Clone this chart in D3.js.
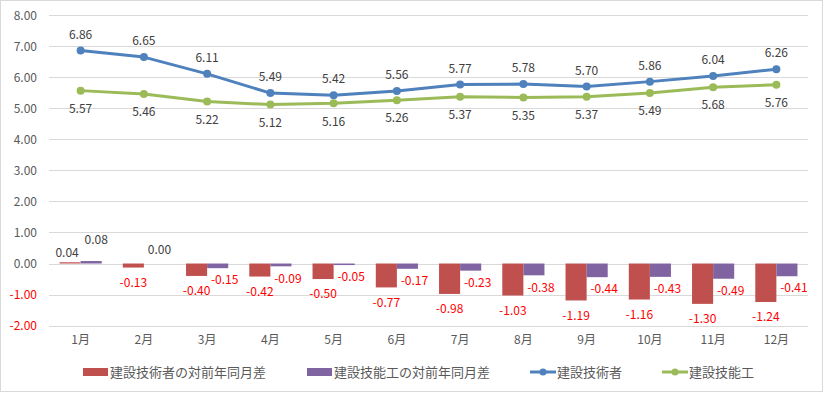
<!DOCTYPE html>
<html>
<head>
<meta charset="utf-8">
<script src="https://cdn.jsdelivr.net/npm/d3@7"></script>
<style>
  body { margin: 0; background: #fff; }
  text { font-family: "Noto Sans CJK JP", "Noto Sans", sans-serif; }
</style>
</head>
<body>
<div id="chart"></div>
<script>
// months and series
var months = ["1月", "2月", "3月", "4月", "5月", "6月", "7月", "8月", "9月", "10月", "11月", "12月"];
var engineer = [6.86, 6.65, 6.11, 5.49, 5.42, 5.56, 5.77, 5.78, 5.70, 5.86, 6.04, 6.26];
var worker = [5.57, 5.46, 5.22, 5.12, 5.16, 5.26, 5.37, 5.35, 5.37, 5.49, 5.68, 5.76];
var engineerDiff = [0.04, -0.13, -0.40, -0.42, -0.50, -0.77, -0.98, -1.03, -1.19, -1.16, -1.30, -1.24];
var workerDiff = [0.08, 0.00, -0.15, -0.09, -0.05, -0.17, -0.23, -0.38, -0.44, -0.43, -0.49, -0.41];
var yTicks = [8, 7, 6, 5, 4, 3, 2, 1, 0, -1, -2];
var legendNames = ["建設技術者の対前年同月差", "建設技能工の対前年同月差", "建設技術者", "建設技能工"];

(function() {
var width = 824,
    height = 393;

var svg = d3.select("#chart").append("svg")
    .attr("width", width)
    .attr("height", height);

// outer frame
svg.append("rect")
    .attr("x", 0.5).attr("y", 0.5)
    .attr("width", width - 2).attr("height", height - 2)
    .style("fill", "#fff")
    .style("stroke", "#d9d9d9");

var x = d3.scaleBand()
    .domain(months)
    .range([49, 808]);

var y = d3.scaleLinear()
    .domain([-2, 8])
    .range([325.6, 15.2]);

// plain hyphen for negatives, like the original
var fmt = function(d) { return d3.format(".2f")(d).replace("\u2212", "-"); };

// gridlines
svg.append("g")
    .selectAll("line")
    .data(yTicks)
    .enter()
    .append("line")
    .attr("x1", x.range()[0])
    .attr("x2", x.range()[1])
    .attr("y1", function(d) { return Math.round(y(d)) + 0.5; })
    .attr("y2", function(d) { return Math.round(y(d)) + 0.5; })
    .style("stroke", "#d9d9d9")
    .style("stroke-width", 1);

// y axis labels
var yAxis = d3.axisLeft(y)
    .tickValues(yTicks)
    .tickFormat(fmt)
    .tickSize(0)
    .tickPadding(0);
var yg = svg.append("g")
    .attr("transform", "translate(37,0)")
    .call(yAxis);
yg.select(".domain").remove();
yg.selectAll("text")
    .style("font-size", "12px")
    .style("fill", function(d) { return d < 0 ? "#ff0000" : "#595959"; });

// x axis labels
var xAxis = d3.axisBottom(x).tickSize(0).tickPadding(0);
var xg = svg.append("g")
    .attr("transform", "translate(0,335)")
    .call(xAxis);
xg.select(".domain").remove();
xg.selectAll("text")
    .style("font-size", "12px")
    .style("fill", "#595959");

// bars
var sub = d3.scaleBand()
    .domain([0, 1])
    .range([0, x.bandwidth()])
    .paddingOuter(0.5)
    .paddingInner(0);

var barSeries = [
    { values: engineerDiff, color: "#c0504d", idx: 0 },
    { values: workerDiff, color: "#8064a2", idx: 1 }
];

barSeries.forEach(function(s) {
    svg.append("g")
        .selectAll("rect")
        .data(s.values)
        .enter()
        .append("rect")
        .attr("x", function(d, i) { return x(months[i]) + sub(s.idx); })
        .attr("y", function(d) { return y(Math.max(0, d)); })
        .attr("width", sub.bandwidth())
        .attr("height", function(d) { return Math.abs(y(d) - y(0)); })
        .style("fill", s.color);
});

// bar labels
svg.append("g")
    .selectAll("text")
    .data(engineerDiff)
    .enter()
    .append("text")
    .attr("x", function(d, i) { return x(months[i]) + sub(0) + sub.bandwidth() / 2 + (d >= 0 ? -3 : 0); })
    .attr("y", function(d) { return d >= 0 ? y(d) - 9 : y(d) + 15; })
    .attr("dy", "0.35em")
    .attr("text-anchor", "middle")
    .style("font-size", "12px")
    .style("fill", function(d) { return d < 0 ? "#ff0000" : "#404040"; })
    .text(function(d) { return fmt(d); });

svg.append("g")
    .selectAll("text")
    .data(workerDiff)
    .enter()
    .append("text")
    .attr("x", function(d, i) { return x(months[i]) + sub(1) + sub.bandwidth() / 2 + (d >= 0 ? 5 : 7); })
    .attr("y", function(d, i) { return d >= 0 ? y(d) - (i === 0 ? 21 : 14) : y(d) + 12; })
    .attr("dy", "0.35em")
    .attr("text-anchor", "middle")
    .style("font-size", "12px")
    .style("fill", function(d) { return d < 0 ? "#ff0000" : "#404040"; })
    .text(function(d) { return fmt(d); });

// lines
var lineSeries = [
    { values: engineer, color: "#4f81bd", above: true },
    { values: worker, color: "#9bbb59", above: false }
];

var line = d3.line()
    .x(function(d, i) { return x(months[i]) + x.bandwidth() / 2; })
    .y(function(d) { return y(d); });

lineSeries.forEach(function(s) {
    var g = svg.append("g");
    g.append("path")
        .datum(s.values)
        .attr("d", line)
        .style("fill", "none")
        .style("stroke", s.color)
        .style("stroke-width", 3)
        .style("stroke-linejoin", "round")
        .style("stroke-linecap", "round");
    g.selectAll("circle")
        .data(s.values)
        .enter()
        .append("circle")
        .attr("cx", function(d, i) { return x(months[i]) + x.bandwidth() / 2; })
        .attr("cy", function(d) { return y(d); })
        .attr("r", 4)
        .style("fill", s.color);
    g.selectAll("text")
        .data(s.values)
        .enter()
        .append("text")
        .attr("x", function(d, i) { return x(months[i]) + x.bandwidth() / 2; })
        .attr("y", function(d) { return s.above ? y(d) - 16 : y(d) + 18; })
        .attr("dy", "0.35em")
        .attr("text-anchor", "middle")
        .style("font-size", "12px")
        .style("fill", "#404040")
        .text(function(d) { return fmt(d); });
});

// legend
var legend = svg.append("g")
    .attr("transform", "translate(0,372)")
    .style("font-size", "13px");

var legendItems = [
    { name: legendNames[0], color: "#c0504d", type: "bar", x: 83 },
    { name: legendNames[1], color: "#8064a2", type: "bar", x: 307 },
    { name: legendNames[2], color: "#4f81bd", type: "line", x: 530 },
    { name: legendNames[3], color: "#9bbb59", type: "line", x: 662 }
];

legendItems.forEach(function(it) {
    if (it.type === "bar") {
        legend.append("rect")
            .attr("x", it.x).attr("y", -4)
            .attr("width", 25).attr("height", 8)
            .style("fill", it.color);
    } else {
        legend.append("line")
            .attr("x1", it.x).attr("x2", it.x + 26)
            .attr("y1", 0).attr("y2", 0)
            .style("stroke", it.color)
            .style("stroke-width", 3);
        legend.append("circle")
            .attr("cx", it.x + 13).attr("cy", 0)
            .attr("r", 3.5)
            .style("fill", it.color);
    }
    legend.append("text")
        .attr("x", it.x + 27)
        .attr("y", 0)
        .attr("dy", "0.35em")
        .style("fill", "#595959")
        .text(it.name);
});
})();
</script>
</body>
</html>
